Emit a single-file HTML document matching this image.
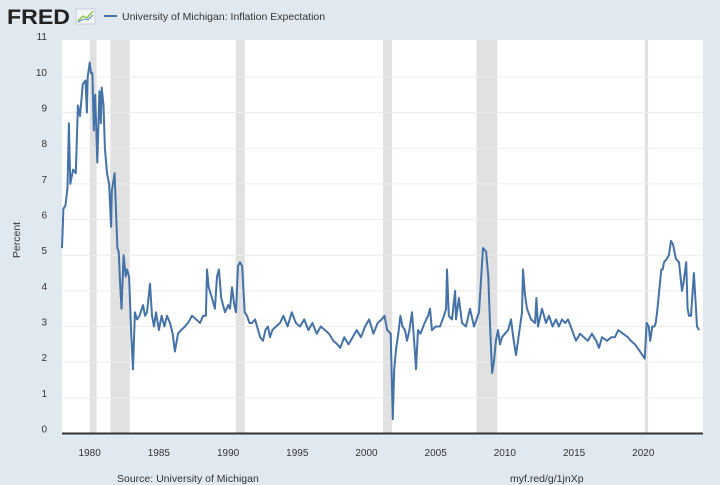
<!DOCTYPE html>
<html><head><meta charset="utf-8"><style>
body{margin:0;width:720px;height:485px;background:#e1e9f0;font-family:"Liberation Sans",sans-serif;overflow:hidden}
svg{display:block}
</style></head><body>
<svg width="720" height="485">
<rect x="0" y="0" width="720" height="485" fill="#e1e9f0"/>
<text x="7" y="24" font-size="21" font-weight="bold" fill="#222" textLength="63" lengthAdjust="spacingAndGlyphs">FRED</text>
<g><rect x="76" y="9" width="19" height="15" fill="#f3f6f8" stroke="#ccd"/><polyline points="78,21 83,16 87,18 93,11" fill="none" stroke="#8bc34a" stroke-width="1.5"/><polyline points="78,22 84,19 88,20 93,15" fill="none" stroke="#5c8ab8" stroke-width="1"/></g>
<line x1="104" y1="16" x2="117" y2="16" stroke="#4572a7" stroke-width="2"/>
<text x="122" y="20" font-size="10.5" fill="#333">University of Michigan: Inflation Expectation</text>
<rect x="62" y="40" width="641" height="393" fill="#fff"/>
<g id="rec"></g><g id="grid"></g><g id="ylab"></g><g id="xlab"></g>
<path id="series" fill="none" stroke="#4572a7" stroke-width="2" stroke-linejoin="round"/>
<line x1="62" y1="433.5" x2="703" y2="433.5" stroke="#333" stroke-width="2"/>
<text transform="translate(20,240) rotate(-90)" text-anchor="middle" font-size="10.5" fill="#333">Percent</text>
<text x="117" y="482" font-size="10.5" fill="#333">Source: University of Michigan</text>
<text x="510" y="482" font-size="10.5" fill="#333">myf.red/g/1jnXp</text>
</svg>
<script>
const years=[1978.0,1978.1,1978.25,1978.4,1978.5,1978.6,1978.8,1979.0,1979.15,1979.3,1979.5,1979.7,1979.8,1979.86,1980.0,1980.1,1980.2,1980.3,1980.4,1980.55,1980.7,1980.8,1980.87,1981.0,1981.1,1981.25,1981.4,1981.55,1981.6,1981.8,1982.0,1982.1,1982.2,1982.3,1982.45,1982.6,1982.7,1982.85,1983.0,1983.13,1983.27,1983.42,1983.6,1983.85,1984.0,1984.14,1984.36,1984.5,1984.65,1984.79,1985.0,1985.2,1985.4,1985.59,1985.8,1986.0,1986.16,1986.38,1986.6,1986.89,1987.1,1987.39,1987.7,1987.97,1988.2,1988.4,1988.48,1988.6,1988.84,1989.05,1989.2,1989.34,1989.5,1989.78,1990.0,1990.14,1990.28,1990.45,1990.57,1990.72,1990.86,1991.01,1991.2,1991.37,1991.55,1991.73,1991.95,1992.1,1992.31,1992.52,1992.7,1992.88,1993.03,1993.2,1993.46,1993.75,1994.0,1994.3,1994.6,1994.9,1995.2,1995.5,1995.8,1996.1,1996.4,1996.7,1997.0,1997.3,1997.6,1997.9,1998.1,1998.4,1998.7,1999.0,1999.3,1999.6,1999.9,2000.2,2000.5,2000.8,2001.1,2001.3,2001.5,2001.75,2001.9,2002.0,2002.15,2002.3,2002.45,2002.6,2002.78,2002.93,2003.1,2003.29,2003.5,2003.58,2003.72,2003.9,2004.2,2004.45,2004.59,2004.73,2005.0,2005.31,2005.6,2005.75,2005.82,2005.95,2006.18,2006.4,2006.47,2006.68,2006.9,2007.19,2007.48,2007.77,2007.95,2008.13,2008.42,2008.64,2008.8,2008.93,2009.08,2009.21,2009.35,2009.5,2009.65,2009.79,2010.0,2010.23,2010.44,2010.6,2010.8,2011.09,2011.24,2011.31,2011.45,2011.6,2011.89,2012.18,2012.28,2012.39,2012.68,2012.97,2013.19,2013.45,2013.69,2013.9,2014.13,2014.35,2014.56,2014.85,2015.14,2015.43,2015.7,2016.0,2016.29,2016.6,2016.8,2017.02,2017.38,2017.7,2017.95,2018.2,2018.53,2018.89,2019.1,2019.4,2019.76,2020.1,2020.25,2020.4,2020.5,2020.65,2020.8,2020.9,2021.0,2021.15,2021.3,2021.4,2021.5,2021.7,2021.85,2022.0,2022.15,2022.36,2022.58,2022.8,2022.9,2023.1,2023.2,2023.3,2023.45,2023.66,2023.88,2024.03,2024.17,2024.24];
const values=[5.2,6.3,6.4,6.9,8.7,7.0,7.4,7.3,9.2,8.9,9.8,9.9,9.0,10.0,10.4,10.1,10.1,8.5,9.5,7.6,9.6,8.7,9.7,9.2,8.0,7.3,7.0,5.8,6.8,7.3,5.2,5.1,4.2,3.5,5.0,4.4,4.6,4.4,2.8,1.8,3.4,3.2,3.3,3.6,3.3,3.4,4.2,3.3,3.0,3.4,2.9,3.3,3.0,3.3,3.1,2.8,2.3,2.8,2.9,3.0,3.1,3.3,3.2,3.1,3.3,3.3,4.6,4.1,3.8,3.5,4.4,4.6,3.8,3.4,3.6,3.5,4.1,3.6,3.4,4.7,4.8,4.7,3.4,3.3,3.1,3.1,3.2,3.0,2.7,2.6,2.9,3.0,2.7,2.9,3.0,3.1,3.3,3.0,3.4,3.1,3.0,3.2,2.9,3.1,2.8,3.0,2.9,2.8,2.6,2.5,2.4,2.7,2.5,2.7,2.9,2.7,3.0,3.2,2.8,3.1,3.2,3.3,2.9,2.8,0.4,1.8,2.4,2.8,3.3,3.0,2.9,2.6,2.9,3.4,2.3,1.8,2.9,2.8,3.1,3.3,3.5,2.9,3.0,3.0,3.3,3.5,4.6,3.3,3.2,4.0,3.2,3.8,3.1,3.0,3.5,3.0,3.2,3.4,5.2,5.1,4.4,3.0,1.7,2.0,2.6,2.9,2.5,2.7,2.8,2.9,3.2,2.7,2.2,3.0,3.4,4.6,3.9,3.5,3.2,3.1,3.8,3.0,3.5,3.1,3.3,3.0,3.2,3.0,3.2,3.1,3.2,2.9,2.6,2.8,2.7,2.6,2.8,2.6,2.4,2.7,2.6,2.7,2.7,2.9,2.8,2.7,2.6,2.5,2.3,2.1,3.1,3.0,2.6,3.0,3.0,3.1,3.4,4.0,4.6,4.6,4.8,4.9,5.0,5.4,5.3,4.9,4.8,4.0,4.2,4.8,3.5,3.3,3.3,4.5,3.0,2.9];
const yTicks=[0,1,2,3,4,5,6,7,8,9,10,11];
const xTicks=[1980,1985,1990,1995,2000,2005,2010,2015,2020];
const recStart=[1980.0,1981.5,1990.55,2001.2,2007.95,2020.1];
const recEnd=[1980.5,1982.9,1991.2,2001.85,2009.45,2020.35];
const X=y=>62+(y-1978)*13.84, Y=v=>433.5-v*35.66;
const NS='http://www.w3.org/2000/svg';
function mk(t,a,p){const e=document.createElementNS(NS,t);for(const k in a)e.setAttribute(k,a[k]);p.appendChild(e);return e;}
const rec=document.getElementById('rec');
recStart.forEach((s,i)=>{const r=mk('rect',{x:X(s),y:40,width:X(recEnd[i])-X(s),height:393,fill:'#e1e1e1'},rec);

});
const grid=document.getElementById('grid'),yl=document.getElementById('ylab'),xl=document.getElementById('xlab');
yTicks.forEach(t=>{if(t>0&&t<11){const l=mk('line',{x1:62,x2:703,y1:Y(t),y2:Y(t),stroke:'#ececec','stroke-width':1},grid);

}
const tx=mk('text',{x:47,y:Y(t)-1,'text-anchor':'end','font-size':10,fill:'#333'},yl);tx.textContent=t;

});
xTicks.forEach(t=>{const tx=mk('text',{x:X(t),y:456,'text-anchor':'middle','font-size':10,fill:'#333'},xl);tx.textContent=t;

});
document.getElementById('series').setAttribute('d',years.map((y,i)=>(i?'L':'M')+X(y).toFixed(1)+','+Y(values[i]).toFixed(1)).join(''));
</script>
</body></html>
